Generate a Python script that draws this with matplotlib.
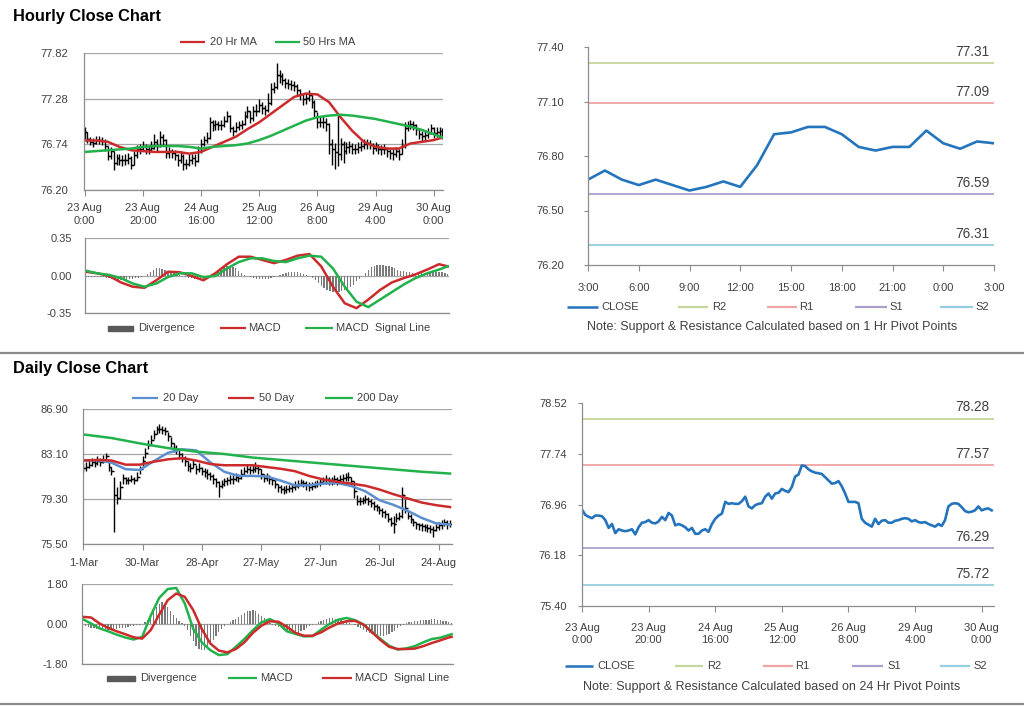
import numpy as np
import matplotlib
matplotlib.use("Agg")
import matplotlib.pyplot as plt
from matplotlib.lines import Line2D
from matplotlib.patches import Rectangle

plt.rcParams['font.family'] = ['Liberation Sans', 'DejaVu Sans']

# ------------------------------------------------------------------ data
hourly_labels = ["23 Aug\n0:00", "23 Aug\n20:00", "24 Aug\n16:00", "25 Aug\n12:00",
                 "26 Aug\n8:00", "29 Aug\n4:00", "30 Aug\n0:00"]

hourly_close = [
    76.88, 76.80, 76.77, 76.75, 76.79, 76.79, 76.78, 76.72, 76.60, 76.66,
    76.52, 76.58, 76.56, 76.55, 76.56, 76.58, 76.50, 76.61, 76.68, 76.69,
    76.72, 76.68, 76.67, 76.70, 76.77, 76.72, 76.83, 76.79, 76.64, 76.66,
    76.64, 76.61, 76.56, 76.60, 76.51, 76.51, 76.56, 76.58, 76.54, 76.66,
    76.74, 76.79, 76.82, 77.00, 76.97, 76.98, 76.97, 76.97, 77.01, 77.08,
    76.93, 76.90, 76.95, 76.97, 76.98, 77.08, 77.13, 77.05, 77.13, 77.14,
    77.20, 77.17, 77.15, 77.23, 77.39, 77.42, 77.56, 77.55, 77.50, 77.47,
    77.45, 77.44, 77.43, 77.38, 77.33, 77.28, 77.29, 77.32, 77.24, 77.13,
    77.00, 77.00, 77.00, 76.98, 76.74, 76.68, 76.65, 76.62, 76.74, 76.66,
    76.71, 76.72, 76.68, 76.68, 76.71, 76.72, 76.74, 76.75, 76.74, 76.70,
    76.72, 76.69, 76.68, 76.69, 76.66, 76.64, 76.62, 76.66, 76.63, 76.72,
    76.93, 76.97, 76.98, 76.97, 76.92, 76.86, 76.84, 76.85, 76.87, 76.93,
    76.87, 76.89, 76.90, 76.87]

hourly_high = [
    76.95, 76.88, 76.83, 76.81, 76.84, 76.84, 76.83, 76.80, 76.72, 76.71,
    76.66, 76.63, 76.62, 76.61, 76.62, 76.64, 76.60, 76.66, 76.73, 76.74,
    76.78, 76.74, 76.73, 76.78, 76.86, 76.80, 76.90, 76.86, 76.80, 76.71,
    76.69, 76.67, 76.63, 76.66, 76.62, 76.57, 76.62, 76.63, 76.62, 76.72,
    76.80, 76.84, 76.88, 77.06, 77.03, 77.03, 77.02, 77.03, 77.07, 77.14,
    77.09, 76.96, 77.00, 77.02, 77.03, 77.13, 77.19, 77.14, 77.19, 77.22,
    77.28, 77.24, 77.21, 77.35, 77.46, 77.48, 77.70, 77.62, 77.58, 77.53,
    77.51, 77.50, 77.49, 77.45, 77.40, 77.35, 77.35, 77.38, 77.32, 77.26,
    77.12, 77.06, 77.07, 77.05, 76.99, 76.80, 76.76, 77.10, 76.82, 76.78,
    76.77, 76.78, 76.75, 76.74, 76.77, 76.78, 76.80, 76.80, 76.79, 76.76,
    76.77, 76.74, 76.73, 76.74, 76.71, 76.69, 76.68, 76.71, 76.69, 76.80,
    77.00, 77.02, 77.03, 77.02, 76.98, 76.93, 76.90, 76.91, 76.93, 76.98,
    76.94, 76.94, 76.95, 76.93]

hourly_low = [
    76.80, 76.76, 76.73, 76.71, 76.74, 76.74, 76.73, 76.66, 76.55, 76.57,
    76.44, 76.50, 76.50, 76.48, 76.50, 76.51, 76.45, 76.49, 76.58, 76.63,
    76.66, 76.63, 76.62, 76.65, 76.69, 76.66, 76.71, 76.72, 76.58, 76.58,
    76.58, 76.55, 76.48, 76.52, 76.44, 76.45, 76.48, 76.51, 76.48, 76.53,
    76.64, 76.72, 76.76, 76.80, 76.90, 76.91, 76.91, 76.91, 76.94, 77.00,
    76.88, 76.84, 76.88, 76.91, 76.92, 76.97, 77.05, 76.99, 77.02, 77.07,
    77.12, 77.10, 77.09, 77.12, 77.21, 77.35, 77.40, 77.47, 77.44, 77.41,
    77.39, 77.38, 77.37, 77.31, 77.27, 77.21, 77.22, 77.25, 77.17, 77.05,
    76.93, 76.94, 76.93, 76.90, 76.62, 76.50, 76.45, 76.48, 76.55, 76.52,
    76.63, 76.64, 76.62, 76.62, 76.64, 76.66, 76.68, 76.68, 76.68, 76.63,
    76.66, 76.62, 76.61, 76.62, 76.59, 76.57, 76.55, 76.59, 76.56, 76.62,
    76.70, 76.90, 76.92, 76.91, 76.85, 76.80, 76.78, 76.79, 76.81, 76.86,
    76.81, 76.83, 76.84, 76.80]

# moving averages / MACD sampled every 4 hours (plus last hour)
hourly_ma20 = [76.785, 76.785, 76.77, 76.71, 76.67, 76.66, 76.65, 76.65, 76.65, 76.63,
               76.65, 76.71, 76.77, 76.83, 76.92, 77.00, 77.10, 77.20, 77.30, 77.34,
               77.33, 77.24, 77.06, 76.90, 76.77, 76.71, 76.69, 76.69, 76.75, 76.77,
               76.79, 76.82]
hourly_ma50 = [76.65, 76.66, 76.67, 76.68, 76.69, 76.71, 76.72, 76.72, 76.72, 76.71,
               76.69, 76.71, 76.72, 76.73, 76.75, 76.79, 76.84, 76.90, 76.96, 77.02,
               77.06, 77.08, 77.09, 77.08, 77.06, 77.04, 77.01, 76.98, 76.95, 76.91,
               76.86, 76.82]
hourly_macd = [0.04, 0.025, 0.00, -0.06, -0.10, -0.11, -0.04, 0.04, 0.035, 0.00,
               -0.04, 0.025, 0.11, 0.18, 0.18, 0.15, 0.12, 0.15, 0.19, 0.205,
               0.09, -0.10, -0.255, -0.30, -0.22, -0.13, -0.06, -0.02, 0.015, 0.06,
               0.11, 0.09]
hourly_signal = [0.05, 0.025, 0.01, -0.02, -0.07, -0.10, -0.07, -0.01, 0.025, 0.025,
                 -0.01, 0.00, 0.07, 0.13, 0.165, 0.165, 0.14, 0.13, 0.165, 0.19,
                 0.18, 0.07, -0.10, -0.24, -0.29, -0.22, -0.15, -0.08, -0.02, 0.025,
                 0.06, 0.09]
hourly_divergence = [
    0.00, -0.005, -0.01, -0.01, -0.01, -0.01, -0.01, -0.015, -0.02, -0.025,
    -0.03, -0.035, -0.04, -0.04, -0.035, -0.03, -0.025, -0.02, -0.015, -0.01,
    0.00, 0.02, 0.04, 0.06, 0.07, 0.07, 0.065, 0.06, 0.05, 0.04,
    0.03, 0.02, 0.01, 0.00, -0.01, -0.02, -0.02, -0.025, -0.03, -0.03,
    -0.03, -0.02, 0.00, 0.02, 0.04, 0.06, 0.07, 0.08, 0.09, 0.09,
    0.085, 0.07, 0.05, 0.03, 0.01, 0.00, -0.01, -0.02, -0.025, -0.03,
    -0.03, -0.03, -0.025, -0.02, -0.01, 0.00, 0.01, 0.02, 0.03, 0.035,
    0.04, 0.04, 0.035, 0.03, 0.02, 0.01, 0.00, -0.02, -0.04, -0.07,
    -0.09, -0.11, -0.13, -0.14, -0.15, -0.15, -0.15, -0.14, -0.13, -0.12,
    -0.10, -0.08, -0.05, -0.03, 0.00, 0.03, 0.06, 0.08, 0.09, 0.10,
    0.10, 0.10, 0.095, 0.09, 0.08, 0.07, 0.06, 0.05, 0.045, 0.04,
    0.035, 0.03, 0.03, 0.025, 0.025, 0.03, 0.03, 0.035, 0.04, 0.04,
    0.04, 0.035, 0.03, 0.02]

pivot1_labels = ["3:00", "6:00", "9:00", "12:00", "15:00", "18:00", "21:00", "0:00", "3:00"]
pivot1_close = [76.67, 76.72, 76.67, 76.64, 76.67, 76.64, 76.61, 76.63, 76.66, 76.63,
                76.75, 76.92, 76.93, 76.96, 76.96, 76.92, 76.85, 76.83, 76.85, 76.85,
                76.94, 76.87, 76.84, 76.88, 76.87]
pivot1_levels = {"R2": 77.31, "R1": 77.09, "S1": 76.59, "S2": 76.31}
pivot24_levels = {"R2": 78.28, "R1": 77.57, "S1": 76.29, "S2": 75.72}

daily_labels = ["1-Mar", "30-Mar", "28-Apr", "27-May", "27-Jun", "26-Jul", "24-Aug"]
daily_close = [
    81.9, 82.0, 82.2, 82.4, 82.3, 82.5, 82.4, 82.6, 82.9, 82.0,
    81.7, 79.6, 79.4, 80.3, 81.1, 80.9, 80.9, 81.0, 80.9, 81.2,
    81.8, 82.5, 83.2, 83.9, 84.3, 84.75, 85.17, 85.2, 85.1, 85.03,
    84.6, 84.05, 83.63, 83.5, 83.07, 82.8, 82.5, 82.1, 81.95, 82.24,
    81.8, 81.95, 81.68, 81.54, 81.4, 81.26, 80.98, 80.7, 80.42, 80.56,
    80.78, 80.89, 80.98, 80.98, 81.12, 81.06, 81.4, 81.68, 81.82, 81.73,
    81.82, 81.95, 81.82, 81.4, 81.06, 81.12, 80.98, 80.89, 80.56, 80.28,
    80.14, 80.05, 80.14, 80.2, 80.28, 80.42, 80.56, 80.7, 80.61, 80.47,
    80.33, 80.42, 80.5, 80.61, 80.7, 80.89, 80.98, 80.89, 80.89, 80.98,
    80.89, 80.98, 81.06, 81.12, 81.17, 80.84, 80.0, 79.16, 79.16, 79.22,
    79.3, 79.16, 78.94, 78.74, 78.6, 78.38, 78.18, 78.04, 77.6, 77.3,
    77.2, 77.7, 77.9, 79.6, 78.5, 77.9, 77.6, 77.34, 77.15, 77.07,
    76.98, 76.93, 76.87, 76.79, 76.65, 76.93, 77.07, 77.2, 77.34, 77.15,
    77.2]
daily_high = [
    82.3, 82.4, 82.6, 82.8, 82.7, 82.9, 82.8, 83.0, 83.2, 82.4,
    82.0, 81.2, 80.3, 80.8, 81.4, 81.2, 81.2, 81.3, 81.2, 81.6,
    82.1, 82.9, 83.6, 84.3, 84.7, 85.1, 85.5, 85.6, 85.5, 85.4,
    85.0, 84.5, 84.0, 83.9, 83.5, 83.2, 82.9, 82.5, 82.3, 82.6,
    82.2, 82.3, 82.0, 81.9, 81.8, 81.6, 81.4, 81.1, 80.8, 80.9,
    81.1, 81.2, 81.3, 81.3, 81.5, 81.4, 81.8, 82.0, 82.2, 82.1,
    82.2, 82.4, 82.2, 81.8, 81.4, 81.5, 81.3, 81.2, 80.9, 80.6,
    80.5, 80.4, 80.5, 80.5, 80.6, 80.8, 80.9, 81.0, 80.9, 80.8,
    80.7, 80.7, 80.8, 80.9, 81.0, 81.2, 81.3, 81.2, 81.2, 81.3,
    81.2, 81.3, 81.4, 81.5, 81.6, 81.2, 80.8, 79.6, 79.5, 79.5,
    79.6, 79.5, 79.3, 79.1, 78.9, 78.7, 78.5, 78.4, 78.1, 77.8,
    77.9, 78.1, 78.2, 80.3, 79.3, 78.3, 78.0, 77.6, 77.4, 77.3,
    77.3, 77.2, 77.2, 77.1, 77.0, 77.2, 77.4, 77.5, 77.6, 77.5,
    77.5]
daily_low = [
    81.6, 81.7, 81.9, 82.1, 82.0, 82.2, 82.1, 82.3, 82.5, 81.7,
    81.3, 76.5, 78.9, 79.3, 80.6, 80.6, 80.6, 80.7, 80.6, 80.8,
    81.4, 82.1, 82.8, 83.5, 83.9, 84.4, 84.8, 84.9, 84.8, 84.7,
    84.2, 83.7, 83.3, 83.1, 82.7, 82.4, 82.1, 81.7, 81.6, 81.9,
    81.4, 81.6, 81.3, 81.2, 81.0, 80.9, 80.6, 80.3, 79.5, 80.2,
    80.4, 80.5, 80.6, 80.6, 80.8, 80.7, 81.0, 81.3, 81.5, 81.4,
    81.5, 81.6, 81.4, 81.0, 80.7, 80.8, 80.6, 80.5, 80.2, 79.9,
    79.8, 79.7, 79.8, 79.9, 79.9, 80.1, 80.2, 80.4, 80.3, 80.1,
    80.0, 80.1, 80.2, 80.3, 80.4, 80.6, 80.6, 80.5, 80.5, 80.6,
    80.5, 80.6, 80.7, 80.8, 80.8, 80.4, 79.4, 78.8, 78.8, 78.9,
    79.0, 78.8, 78.6, 78.4, 78.3, 78.0, 77.8, 77.7, 77.4, 77.0,
    76.45, 77.4, 77.5, 77.7, 78.1, 77.6, 77.3, 77.0, 76.8, 76.7,
    76.6, 76.6, 76.5, 76.4, 76.1, 76.6, 76.7, 76.8, 77.0, 76.8,
    76.9]
# moving averages: 20/50 sampled every 5 days, 200 every 10 days
daily_ma20 = [82.55, 82.57, 82.37, 81.82, 81.75, 82.5, 83.2, 83.5, 83.4, 82.4,
              81.6, 81.25, 81.25, 81.2, 80.85, 80.45, 80.45, 80.6, 80.65, 80.4,
              79.95, 79.2, 78.8, 78.3, 77.7, 77.25, 77.13]
daily_ma50 = [82.55, 82.6, 82.55, 82.2, 82.2, 82.45, 82.65, 82.75, 82.55, 82.25,
              82.15, 82.15, 82.15, 82.0, 81.85, 81.65, 81.25, 80.95, 80.75, 80.6,
              80.42, 80.1, 79.7, 79.35, 79.0, 78.78, 78.62]
daily_ma200 = [84.75, 84.45, 84.0, 83.6, 83.3, 83.1, 82.8, 82.6, 82.4, 82.2,
               82.0, 81.8, 81.6, 81.45]
# daily MACD sampled every 3 days (plus last day)
daily_macd = [0.2, 0.0, -0.22, -0.35, -0.5, -0.63, -0.72, -0.6, 0.35, 1.15,
              1.55, 1.6, 0.9, -0.25, -0.85, -1.2, -1.42, -1.38, -1.05, -0.7,
              -0.3, 0.05, 0.2, 0.0, -0.35, -0.47, -0.58, -0.57, -0.28, -0.02,
              0.17, 0.25, 0.15, -0.05, -0.38, -0.7, -1.0, -1.17, -1.12, -1.02,
              -0.85, -0.7, -0.64, -0.52, -0.48]
daily_signal = [0.3, 0.27, 0.0, -0.2, -0.35, -0.48, -0.62, -0.68, -0.3, 0.4,
                1.05, 1.35, 1.2, 0.6, -0.25, -0.9, -1.22, -1.3, -1.15, -0.85,
                -0.42, -0.1, 0.1, 0.08, -0.15, -0.42, -0.55, -0.55, -0.4, -0.18,
                0.0, 0.1, 0.12, -0.05, -0.4, -0.75, -1.05, -1.15, -1.15, -1.13,
                -1.02, -0.88, -0.76, -0.63, -0.6]
daily_divergence = [
    -0.05, -0.1, -0.15, -0.2, -0.22, -0.25, -0.25, -0.28, -0.3, -0.3,
    -0.3, -0.28, -0.25, -0.22, -0.2, -0.18, -0.15, -0.12, -0.1, -0.08,
    -0.05, 0.0, 0.05, 0.15, 0.35, 0.55, 0.75, 0.9, 0.95, 0.9,
    0.75, 0.55, 0.4, 0.25, 0.12, 0.02, -0.1, -0.3, -0.55, -0.8,
    -1.0, -1.15, -1.2, -1.2, -1.1, -0.95, -0.75, -0.55, -0.4, -0.25,
    -0.12, -0.02, 0.08, 0.15, 0.22, 0.3, 0.4, 0.48, 0.55, 0.58,
    0.6, 0.55, 0.45, 0.35, 0.25, 0.12, 0.02, -0.05, -0.1, -0.15,
    -0.2, -0.28, -0.35, -0.4, -0.43, -0.45, -0.42, -0.35, -0.28, -0.2,
    -0.12, -0.06, 0.0, 0.05, 0.12, 0.18, 0.22, 0.25, 0.25, 0.22,
    0.18, 0.15, 0.1, 0.06, 0.02, -0.02, -0.08, -0.15, -0.22, -0.3,
    -0.36, -0.42, -0.48, -0.52, -0.55, -0.55, -0.55, -0.52, -0.48, -0.4,
    -0.32, -0.22, -0.12, -0.05, 0.02, 0.05, 0.08, 0.1, 0.12, 0.15,
    0.16, 0.18, 0.18, 0.2, 0.2, 0.18, 0.15, 0.12, 0.1, 0.05,
    0.02]

# ------------------------------------------------------------------ style
RED = "#cc2b2b"
GREEN = "#22b24c"
BLUE20 = "#5b8fd0"
CLOSE_BLUE = "#2474bd"
PIVOT_COLORS = {"R2": "#c3d69b", "R1": "#f0a4a4", "S1": "#ad9fcc", "S2": "#93cfe0"}
GRID = "#a6a6a6"
SPINE = "#8c8c8c"
TXT = "#404040"
TS = 8

W, H = 1024, 706
fig = plt.figure(figsize=(W / 100, H / 100), dpi=100)
fig.patch.set_facecolor("white")


def add_ax(x0, y0, x1, y1):
    return fig.add_axes([x0 / W, 1 - y1 / H, (x1 - x0) / W, (y1 - y0) / H])


def fig_line(x0, x1, y, color, lw):
    fig.add_artist(Line2D([x0 / W, x1 / W], [1 - y / H, 1 - y / H], color=color, lw=lw,
                          solid_capstyle="butt"))


def fig_text(x, y, s, **kw):
    kw.setdefault("fontsize", TS)
    kw.setdefault("color", TXT)
    kw.setdefault("va", "center")
    fig.text(x / W, 1 - y / H, s, **kw)


def legend(items, y):
    for kind, x0, x1, color, label, tx in items:
        if kind == "bar":
            fig.add_artist(Rectangle((x0 / W, 1 - (y + 2.5) / H), (x1 - x0) / W, 5 / H,
                                     color=color, transform=fig.transFigure))
        else:
            fig_line(x0, x1, y, color, 1.6 if color != CLOSE_BLUE else 1.8)
        fig_text(tx, y, label)


def style(ax, ylim, yticks, fmt, grid=True, ypad=10, xpad=8, ytick_len=0):
    ax.set_ylim(*ylim)
    ax.set_yticks(yticks)
    ax.set_yticklabels([fmt.format(v) for v in yticks])
    for s in ("top", "right"):
        ax.spines[s].set_visible(False)
    for s in ("left", "bottom"):
        ax.spines[s].set_color(SPINE)
        ax.spines[s].set_linewidth(0.9)
    if grid:
        ax.grid(axis="y", color=GRID, lw=0.9)
    ax.set_axisbelow(True)
    ax.tick_params(axis="y", length=ytick_len, pad=ypad, labelsize=TS, labelcolor=TXT,
                   color=SPINE)
    ax.tick_params(axis="x", length=4, direction="out", pad=xpad, labelsize=TS,
                   labelcolor=TXT, color=SPINE)
    ax.set_facecolor("none")


def ohlc(ax, close, high, low, tick, lw):
    x = np.arange(len(close))
    c = np.asarray(close)
    o = np.r_[c[0], c[:-1]]
    ax.vlines(x, low, high, color="black", lw=lw)
    ax.hlines(o, x - tick, x, color="black", lw=lw)
    ax.hlines(c, x, x + tick, color="black", lw=lw)


def sampled(n, step):
    idx = list(range(0, n, step))
    if idx[-1] != n - 1:
        idx.append(n - 1)
    return np.array(idx)


nh = len(hourly_close)
nd = len(daily_close)

# ------------------------------------------------------------------ titles / separators
fig_text(13, 16, "Hourly Close Chart", fontsize=11.8, fontweight="bold", color="black")
fig_text(13, 369, "Daily Close Chart", fontsize=11.8, fontweight="bold", color="black")
fig_line(0, 1024, 352.5, "#8a8a8a", 1.6)
fig_line(0, 1024, 704, "#8a8a8a", 1.6)

# ------------------------------------------------------------------ hourly OHLC
ax = add_ax(84, 53, 443, 190)
ohlc(ax, hourly_close, hourly_high, hourly_low, 0.7, 1.0)
xi = sampled(nh, 4)
ax.plot(xi, hourly_ma20, color=RED, lw=1.8)
ax.plot(xi, hourly_ma50, color=GREEN, lw=1.8)
ax.set_xlim(-0.2, nh - 0.8)
ax.set_xticks(range(0, nh, 20))
ax.set_xticklabels(hourly_labels, linespacing=1.3)
style(ax, (76.20, 77.82), [76.20, 76.74, 77.28, 77.82], "{:.2f}", ypad=11.5, xpad=5.5)
legend([("line", 180, 205, RED, "20 Hr MA", 210),
        ("line", 275, 300, GREEN, "50 Hrs MA", 303)], 42)

# hourly MACD
ax = add_ax(85, 238.5, 449, 313.5)
ax.bar(np.arange(nh), hourly_divergence, width=0.45, color="#7a7a7a")
ax.plot(xi, hourly_macd, color=RED, lw=1.8)
ax.plot(xi, hourly_signal, color=GREEN, lw=1.8)
ax.set_xlim(-0.2, nh - 0.6)
ax.set_xticks([])
style(ax, (-0.35, 0.35), [-0.35, 0.0, 0.35], "{:.2f}", ypad=9.4)
legend([("bar", 108, 133, "#595959", "Divergence", 138),
        ("line", 220, 246, RED, "MACD", 248),
        ("line", 305, 333, GREEN, "MACD  Signal Line", 336)], 328)

# ------------------------------------------------------------------ 1 Hr pivot chart
ax = add_ax(588, 47, 994, 265)
npv = len(pivot1_close)
for k, v in pivot1_levels.items():
    ax.axhline(v, color=PIVOT_COLORS[k], lw=1.3)
    ax.annotate(f"{v:.2f}", xy=(1, v), xycoords=("axes fraction", "data"),
                xytext=(-3, 3), textcoords="offset points", ha="right", va="bottom",
                fontsize=9.8, color=TXT)
ax.plot(np.arange(npv), pivot1_close, color=CLOSE_BLUE, lw=1.9)
ax.set_xlim(0, npv - 1)
ax.set_xticks(range(0, npv, 3))
ax.set_xticklabels(pivot1_labels)
style(ax, (76.20, 77.40), [76.20, 76.50, 76.80, 77.10, 77.40], "{:.2f}", grid=False,
      ypad=14, xpad=9, ytick_len=3)
legend([("line", 567, 598, CLOSE_BLUE, "CLOSE", 601),
        ("line", 678, 708, PIVOT_COLORS["R2"], "R2", 712),
        ("line", 767, 797, PIVOT_COLORS["R1"], "R1", 799),
        ("line", 855, 887, PIVOT_COLORS["S1"], "S1", 889),
        ("line", 940, 973, PIVOT_COLORS["S2"], "S2", 975)], 307)
fig_text(772, 327.5, "Note: Support & Resistance Calculated based on 1 Hr Pivot Points",
         ha="center", fontsize=9)

# ------------------------------------------------------------------ daily OHLC
ax = add_ax(83, 409, 452, 544)
ohlc(ax, daily_close, daily_high, daily_low, 0.7, 1.0)
ax.plot(sampled(nd, 5), daily_ma20, color=BLUE20, lw=1.8)
ax.plot(sampled(nd, 5), daily_ma50, color=RED, lw=1.8)
ax.plot(sampled(nd, 10), daily_ma200, color=GREEN, lw=1.8)
ax.set_xlim(-0.1, nd - 0.3)
ax.set_xticks(range(0, nd, 21))
ax.set_xticklabels(daily_labels)
style(ax, (75.50, 86.90), [75.50, 79.30, 83.10, 86.90], "{:.2f}", ypad=10.8, xpad=6)
legend([("line", 132, 158, BLUE20, "20 Day", 163),
        ("line", 228, 254, RED, "50 Day", 259),
        ("line", 325, 353, GREEN, "200 Day", 357)], 398)

# daily MACD
ax = add_ax(82, 583.5, 453, 663.5)
ax.bar(np.arange(nd), daily_divergence, width=0.45, color="#7a7a7a")
xd = sampled(nd, 3)
ax.plot(xd, daily_macd, color=GREEN, lw=1.8)
ax.plot(xd, daily_signal, color=RED, lw=1.8)
ax.set_xlim(-0.2, nd - 0.5)
ax.set_xticks([])
style(ax, (-1.80, 1.80), [-1.80, 0.0, 1.80], "{:.2f}", ypad=10)
legend([("bar", 107, 135, "#595959", "Divergence", 140),
        ("line", 228, 257, GREEN, "MACD", 260),
        ("line", 322, 352, RED, "MACD  Signal Line", 355)], 678)

# ------------------------------------------------------------------ 24 Hr pivot chart
ax = add_ax(582, 403, 994, 606)
for k, v in pivot24_levels.items():
    ax.axhline(v, color=PIVOT_COLORS[k], lw=1.3)
    ax.annotate(f"{v:.2f}", xy=(1, v), xycoords=("axes fraction", "data"),
                xytext=(-3, 3), textcoords="offset points", ha="right", va="bottom",
                fontsize=9.8, color=TXT)
ax.plot(np.arange(nh), hourly_close, color=CLOSE_BLUE, lw=1.9)
ax.set_xlim(0, nh - 0.3)
ax.set_xticks(range(0, nh, 20))
ax.set_xticklabels(hourly_labels, linespacing=1.3)
style(ax, (75.40, 78.52), [75.40, 76.18, 76.96, 77.74, 78.52], "{:.2f}", grid=False,
      ypad=8, xpad=8, ytick_len=3)
legend([("line", 565, 593, CLOSE_BLUE, "CLOSE", 597),
        ("line", 675, 703, PIVOT_COLORS["R2"], "R2", 707),
        ("line", 763, 793, PIVOT_COLORS["R1"], "R1", 795),
        ("line", 852, 883, PIVOT_COLORS["S1"], "S1", 887),
        ("line", 940, 970, PIVOT_COLORS["S2"], "S2", 973)], 666)
fig_text(772, 687, "Note: Support & Resistance Calculated based on 24 Hr Pivot Points",
         ha="center", fontsize=9)

fig.savefig("out.png", dpi=100, facecolor="white")
